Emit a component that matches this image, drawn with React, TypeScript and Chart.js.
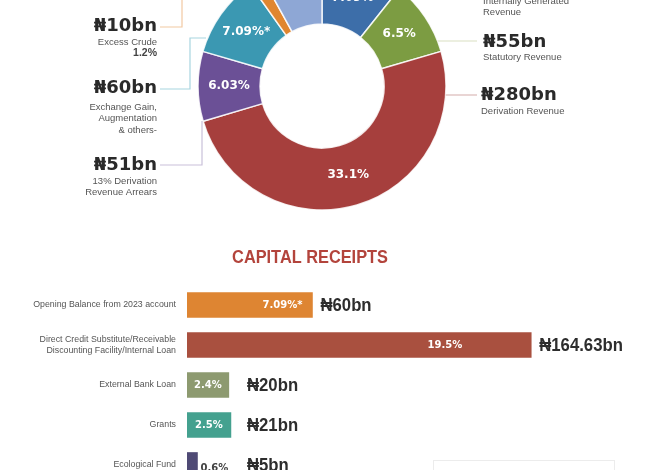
import React, { useEffect, useRef } from "react";
import { Chart, registerables } from "chart.js";
Chart.register(...registerables);

// ---------- Recurrent revenue (doughnut) ----------
const revenueCategories = [
  ["Internally Generated", "Revenue"],
  ["Statutory Revenue"],
  ["Derivation Revenue"],
  ["13% Derivation", "Revenue Arrears"],
  ["Exchange Gain,", "Augmentation", "& others-"],
  ["Excess Crude"],
  ["Value Added Tax"],
];
const revenueValues = [60, 55, 280, 51, 60, 10, 45];
const revenueShares = ["7.09%", "6.5%", "33.1%", "6.03%", "7.09%*", "1.2%", "5.3%"];
const revenueColors = ["#3d6ea9", "#7c9c42", "#a63f3d", "#6b5096", "#3b98b2", "#e0862f", "#8ea7d5"];

// ---------- Capital receipts (bars) ----------
const capitalCategories = [
  ["Opening Balance from 2023 account"],
  ["Direct Credit Substitute/Receivable", "Discounting Facility/Internal Loan"],
  ["External Bank Loan"],
  ["Grants"],
  ["Ecological Fund"],
];
const capitalValues = [60, 164.63, 20, 21, 5];
const capitalShares = ["7.09%*", "19.5%", "2.4%", "2.5%", "0.6%"];
const capitalColors = ["#de8532", "#a9503f", "#8d9a70", "#44a18f", "#4f4a75"];

const fmtAmount = (v: number) => `\u20A6${v}bn`;

const DONUT_TOP = -64; // canvas offset on the page
const BAR_TOP = 230;

const scaledText = (ctx: any, text: string, x: number, y: number, sx: number) => {
  ctx.save();
  ctx.translate(x, y);
  ctx.scale(sx, 1);
  ctx.fillText(text, 0, 0);
  ctx.restore();
};

const donutLabelsPlugin = {
  id: "donutLabels",
  afterDraw(chart: any) {
    const ctx = chart.ctx;
    const meta = chart.getDatasetMeta(0);
    const arc0 = meta.data[0];
    const cx = arc0.x, cy = arc0.y;
    const R = arc0.outerRadius;
    const r = arc0.innerRadius;
    ctx.save();
    // inside labels
    ctx.fillStyle = "#ffffff";
    ctx.font = 'bold 12px "DejaVu Sans"';
    ctx.textAlign = "center";
    ctx.textBaseline = "middle";
    meta.data.forEach((a: any, i: number) => {
      if (i === 5) return;
      const mid = (a.startAngle + a.endAngle) / 2;
      const rr = (R + r) / 2;
      ctx.fillText(revenueShares[i], cx + Math.cos(mid) * rr, cy + Math.sin(mid) * rr);
    });

    const off = -DONUT_TOP;
    const ringXRight = (py: number) => cx + Math.sqrt(R * R - (py + off - cy) ** 2);
    const line = (pts: number[][], color: string) => {
      ctx.strokeStyle = color;
      ctx.lineWidth = 1.2;
      ctx.beginPath();
      pts.forEach((p, k) => (k ? ctx.lineTo(p[0], p[1] + off) : ctx.moveTo(p[0], p[1] + off)));
      ctx.stroke();
    };

    // leader lines
    line([[160, 27], [182, 27], [182, -40]], "#f2c9a2");
    line([[160, 89], [190, 89], [190, 38], [206, 38]], "#a8d5df");
    line([[160, 165], [202, 165], [202, 121]], "#c9c0d9");
    line([[ringXRight(41), 41], [477, 41]], "#d9dfc2");
    line([[ringXRight(95), 95], [477, 95]], "#dbb9b7");

    const callouts = [
      { i: 5, side: "left", x: 157, y: 26, subY: 42, extra: revenueShares[5] },
      { i: 4, side: "left", x: 157, y: 88, subY: 107 },
      { i: 3, side: "left", x: 157, y: 165, subY: 181 },
      { i: 0, side: "right", x: 483, y: -16, subY: 1 },
      { i: 1, side: "right", x: 483, y: 42, subY: 57 },
      { i: 2, side: "right", x: 481, y: 95, subY: 111 },
    ];
    callouts.forEach((c: any) => {
      ctx.textAlign = c.side === "left" ? "right" : "left";
      ctx.textBaseline = "middle";
      ctx.fillStyle = "#2a2a2a";
      ctx.font = 'bold 18px "DejaVu Sans"';
      ctx.fillText(fmtAmount(revenueValues[c.i]), c.x, c.y + off);
      ctx.fillStyle = "#555555";
      ctx.font = '9.5px "Liberation Sans"';
      let yy = c.subY;
      revenueCategories[c.i].forEach((t) => {
        ctx.fillText(t, c.x, yy + off);
        yy += 11.5;
      });
      if (c.extra) {
        ctx.font = 'bold 10.5px "Liberation Sans"';
        ctx.fillStyle = "#444444";
        ctx.fillText(c.extra, c.x, yy + off);
      }
    });
    ctx.restore();
  },
};

const pctPlacement = [
  { mode: "end", inset: 10 },
  { mode: "end", inset: 69 },
  { mode: "center", inset: 0 },
  { mode: "center", inset: 0 },
  { mode: "outside", inset: 0 },
];

const barLabelsPlugin = {
  id: "barLabels",
  afterDraw(chart: any) {
    const ctx = chart.ctx;
    const meta = chart.getDatasetMeta(0);
    ctx.save();
    // title
    ctx.fillStyle = "#b3443c";
    ctx.font = 'bold 19px "Liberation Sans"';
    ctx.textAlign = "center";
    ctx.textBaseline = "middle";
    scaledText(ctx, "CAPITAL RECEIPTS", 310, 258 - BAR_TOP, 0.86);

    meta.data.forEach((b: any, i: number) => {
      const end = b.x, start = b.base, y = b.y;
      const p = pctPlacement[i];
      ctx.font = 'bold 10px "DejaVu Sans"';
      ctx.textBaseline = "middle";
      if (p.mode === "end") {
        ctx.fillStyle = "#ffffff";
        ctx.textAlign = "right";
        ctx.fillText(capitalShares[i], end - p.inset, y);
      } else if (p.mode === "center") {
        ctx.fillStyle = "#ffffff";
        ctx.textAlign = "center";
        ctx.fillText(capitalShares[i], (start + end) / 2, y);
      } else {
        ctx.fillStyle = "#444444";
        ctx.textAlign = "left";
        ctx.fillText(capitalShares[i], end + 3, y + 3);
      }
      ctx.fillStyle = "#2d2d2d";
      ctx.font = 'bold 19px "Liberation Sans"';
      ctx.textAlign = "left";
      scaledText(ctx, fmtAmount(capitalValues[i]), Math.max(end + 8, 247), y + 1, 0.88);
    });

    // faint box bottom right
    ctx.strokeStyle = "#ececec";
    ctx.lineWidth = 1;
    ctx.strokeRect(433.5, 460.5 - BAR_TOP, 181, 40);
    ctx.restore();
  },
};

export default function App() {
  const donutRef = useRef<HTMLCanvasElement>(null);
  const barRef = useRef<HTMLCanvasElement>(null);

  useEffect(() => {
    const donut = new Chart(donutRef.current!, {
      type: "doughnut",
      data: {
        labels: revenueCategories.map((c) => c.join(" ")),
        datasets: [
          {
            data: revenueValues,
            backgroundColor: revenueColors,
            borderColor: "rgba(255,255,255,0.85)",
            borderWidth: 1.5,
            radius: 124,
          } as any,
        ],
      },
      options: {
        animation: false,
        responsive: false,
        cutout: "50%",
        layout: { padding: { left: 0, right: 16, top: 0, bottom: 0 } },
        plugins: { legend: { display: false }, tooltip: { enabled: false } },
      },
      plugins: [donutLabelsPlugin],
    });

    const bar = new Chart(barRef.current!, {
      type: "bar",
      data: {
        labels: capitalCategories,
        datasets: [
          {
            data: capitalValues,
            backgroundColor: capitalColors,
            barThickness: 25,
          },
        ],
      },
      options: {
        indexAxis: "y",
        animation: false,
        responsive: false,
        layout: { padding: { top: 55, right: 13, bottom: 0, left: 0 } },
        plugins: { legend: { display: false }, tooltip: { enabled: false } },
        scales: {
          x: { display: false, min: 0, max: 220 },
          y: {
            afterFit: (s: any) => {
              s.width = 187;
              s.paddingTop = 0;
              s.paddingBottom = 0;
            },
            grid: { display: false, drawTicks: false },
            border: { display: false },
            ticks: {
              padding: 11,
              color: "#555555",
              font: { family: '"Liberation Sans"', size: 8.8, lineHeight: 1.3 },
            },
          },
        },
      },
      plugins: [barLabelsPlugin],
    });

    return () => {
      donut.destroy();
      bar.destroy();
    };
  }, []);

  return (
    <div
      style={{
        position: "absolute",
        left: 0,
        top: 0,
        width: 660,
        height: 470,
        overflow: "hidden",
        background: "#ffffff",
      }}
    >
      <canvas
        ref={donutRef}
        width={660}
        height={300}
        style={{ position: "absolute", left: 0, top: DONUT_TOP, width: 660, height: 300 }}
      />
      <canvas
        ref={barRef}
        width={660}
        height={255}
        style={{ position: "absolute", left: 0, top: BAR_TOP, width: 660, height: 255 }}
      />
    </div>
  );
}
